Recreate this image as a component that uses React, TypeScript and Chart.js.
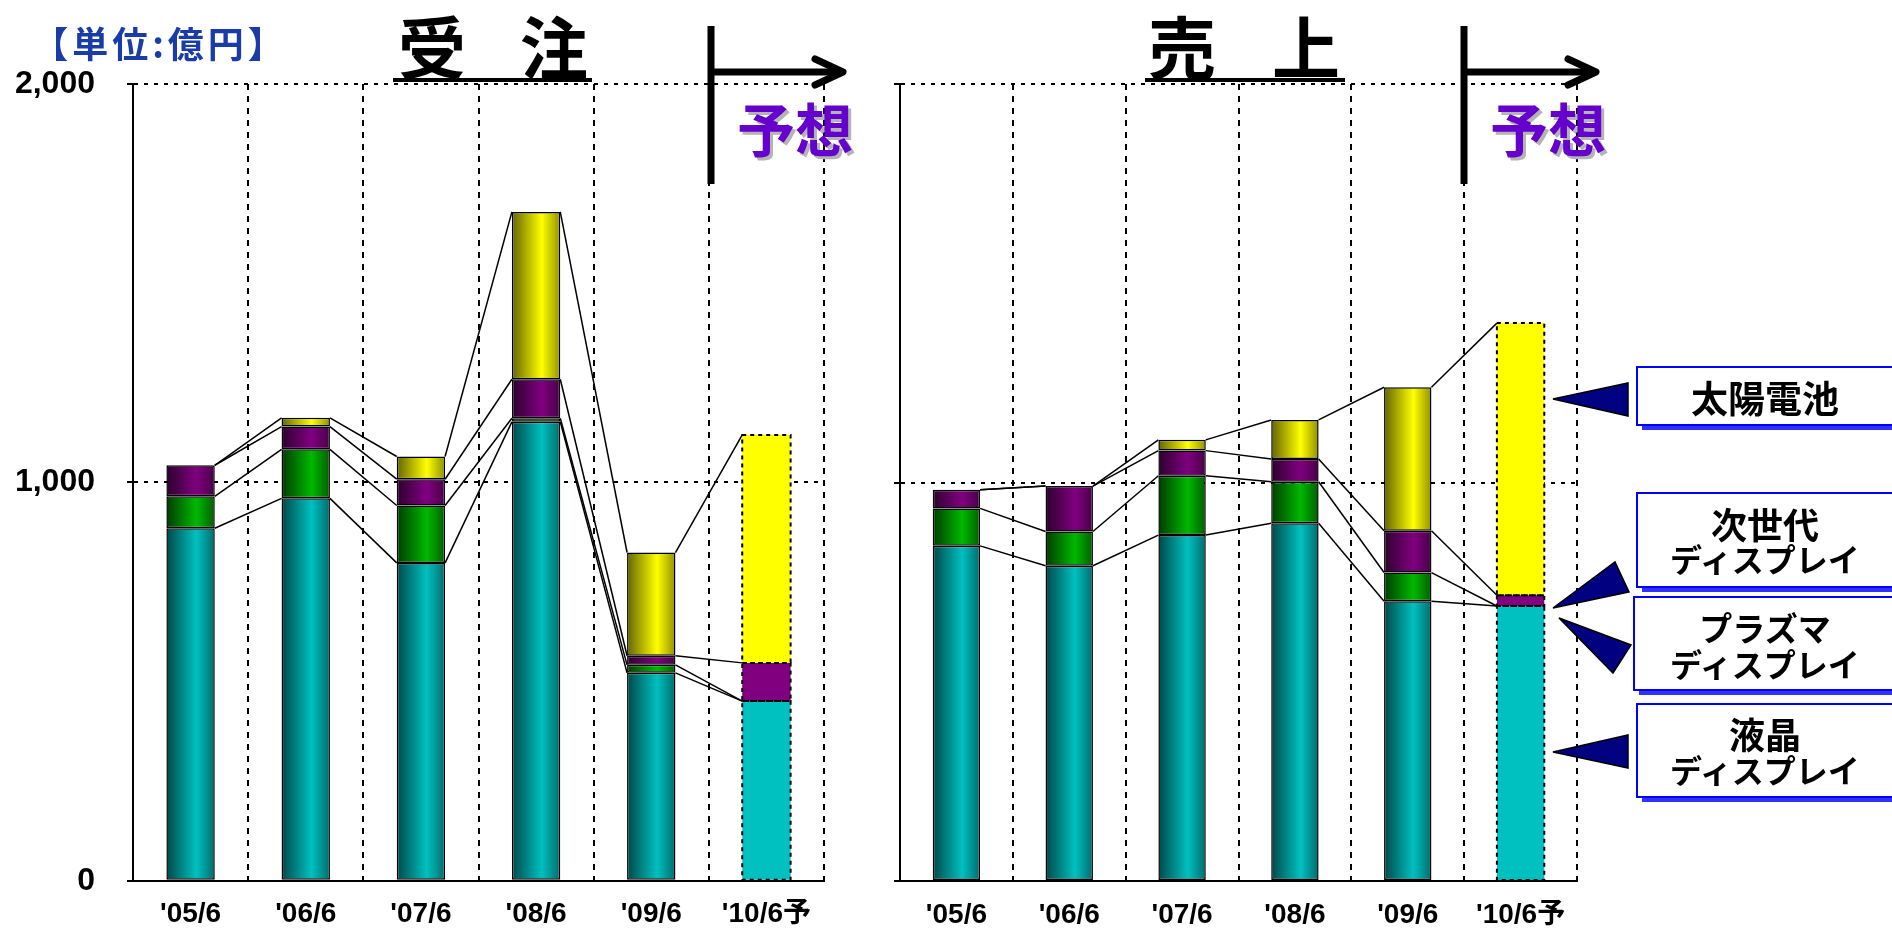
import React, { useEffect, useRef } from "react";
import { Chart, registerables } from "chart.js";

Chart.register(...registerables);

// ---------- data ----------
const categories = ["'05/6", "'06/6", "'07/6", "'08/6", "'09/6", "'10/6予"];
const yTickValues = [0, 1000, 2000];
const yTickLabels = ["0", "1,000", "2,000"];
const seriesNames = ["液晶ディスプレイ", "プラズマディスプレイ", "次世代ディスプレイ", "太陽電池"];

// 受注 (orders), 億円
const ordersLCD = [885, 960, 798, 1152, 522, 451];
const ordersPlasma = [80, 123, 144, 9, 20, 0];
const ordersNextGen = [78, 57, 66, 98, 23, 96];
const ordersSolar = [0, 22, 57, 420, 259, 572];

// 売上 (sales), 億円
const salesLCD = [841, 791, 868, 898, 702, 690];
const salesPlasma = [94, 86, 149, 104, 72, 0];
const salesNextGen = [47, 114, 63, 57, 105, 27];
const salesSolar = [0, 0, 27, 98, 360, 683];

const forecastIndex = 5;

// ---------- style ----------
const BAR_PCT = 0.42;
const TICK_FONT = '"Liberation Sans", Arial, "Noto Sans CJK JP", sans-serif';
const JP_FONT = '"Noto Sans CJK JP", "Noto Sans", sans-serif';

const palette = [
  { base: "#00C0C0", dark: "#004848", mid: "#006c6c" },
  { base: "#00B800", dark: "#003c00", mid: "#005e00" },
  { base: "#800080", dark: "#2c002c", mid: "#480048" },
  { base: "#FFFF00", dark: "#646400", mid: "#909000" },
];

function makeBg(pi: number) {
  return (ctx: any) => {
    const p = palette[pi];
    if (ctx.type !== "data" || ctx.dataIndex === forecastIndex) return p.base;
    const chart = ctx.chart;
    const xs = chart.scales && chart.scales.x;
    if (!xs || !chart.chartArea) return p.base;
    const cx = xs.getPixelForValue(ctx.dataIndex);
    const hw = ((xs.right - xs.left) / categories.length) * BAR_PCT / 2;
    const g = chart.ctx.createLinearGradient(cx - hw, 0, cx + hw, 0);
    g.addColorStop(0, p.dark);
    g.addColorStop(0.62, p.base);
    g.addColorStop(1, p.mid);
    return g;
  };
}

const connectorPlugin = {
  id: "seriesConnectors",
  afterDatasetsDraw(chart: any) {
    const ctx = chart.ctx;
    const metas = chart.data.datasets.map((_: any, i: number) => chart.getDatasetMeta(i));
    ctx.save();
    ctx.strokeStyle = "#000";
    ctx.lineWidth = 1.5;
    for (let i = 0; i < categories.length - 1; i++) {
      for (const meta of metas) {
        const a = meta.data[i];
        const b = meta.data[i + 1];
        if (!a || !b) continue;
        ctx.beginPath();
        ctx.moveTo(a.x + a.width / 2, a.y);
        ctx.lineTo(b.x - b.width / 2, b.y);
        ctx.stroke();
      }
    }
    ctx.setLineDash([4, 4]);
    ctx.lineWidth = 2;
    for (const meta of metas) {
      const el = meta.data[forecastIndex];
      if (!el) continue;
      const h = el.base - el.y;
      if (Math.abs(h) < 0.5) continue;
      ctx.strokeRect(el.x - el.width / 2, el.y, el.width, h);
    }
    ctx.restore();
  },
};

type PanelProps = {
  series: number[][];
  left: number;
  width: number;
  axisWidth: number;
  rightPad: number;
  showY: boolean;
};

function StackPanel({ series, left, width, axisWidth, rightPad, showY }: PanelProps) {
  const ref = useRef<HTMLCanvasElement>(null);
  useEffect(() => {
    const chart = new Chart(ref.current as HTMLCanvasElement, {
      type: "bar",
      data: {
        labels: categories,
        datasets: series.map((d, i) => ({
          label: seriesNames[i],
          data: d,
          backgroundColor: makeBg(i) as any,
          borderColor: "#000",
          borderWidth: ((c: any) => (c.dataIndex === forecastIndex ? 0 : 1.5)) as any,
          borderSkipped: false,
          barPercentage: BAR_PCT,
          categoryPercentage: 1,
        })),
      },
      options: {
        responsive: false,
        animation: false,
        events: [],
        layout: { padding: { top: 84, right: rightPad, left: 0, bottom: 0 } },
        plugins: { legend: { display: false }, tooltip: { enabled: false }, title: { display: false } },
        scales: {
          x: {
            stacked: true,
            offset: true,
            grid: { offset: true, color: "#000", lineWidth: 2, drawTicks: false },
            border: { display: true, color: "#000", width: 2, dash: [6, 6] },
            ticks: {
              color: "#000",
              font: { family: TICK_FONT, size: 28, weight: "bold" },
              padding: 17,
              maxRotation: 0,
              autoSkip: false,
            },
            afterFit: (s: any) => {
              s.height = 51;
            },
          },
          y: {
            stacked: true,
            min: 0,
            max: 2000,
            grid: { color: "#000", lineWidth: 2, drawTicks: true, tickLength: 6, tickBorderDash: [] },
            border: { display: true, color: "#000", width: 2, dash: [4, 6] },
            ticks: {
              display: showY,
              stepSize: 1000,
              color: "#000",
              padding: 32,
              font: { family: TICK_FONT, size: 32, weight: "bold" },
              callback: (v: any) => {
                const idx = yTickValues.indexOf(Number(v));
                return idx >= 0 ? yTickLabels[idx] : "";
              },
            },
            afterFit: (s: any) => {
              s.width = axisWidth;
            },
          },
        },
      } as any,
      plugins: [connectorPlugin],
    });
    return () => chart.destroy();
  }, []);
  return (
    <canvas
      ref={ref}
      width={width}
      height={932}
      style={{ position: "absolute", left, top: 0, width, height: 932 }}
    />
  );
}

function Arrow({ x, tipX }: { x: number; tipX: number }) {
  return (
    <g stroke="#000" strokeWidth={7} fill="none" strokeLinecap="butt" strokeLinejoin="round">
      <line x1={x} y1={26} x2={x} y2={184} />
      <line x1={x} y1={72} x2={tipX - 4} y2={72} />
      <polyline points={`${tipX - 28},59 ${tipX},72 ${tipX - 28},85`} strokeLinecap="round" />
    </g>
  );
}

function Forecast({ cx }: { cx: number }) {
  const style: any = { fontFamily: JP_FONT, fontWeight: 700, fontSize: 58 };
  return (
    <g>
      <text x={cx + 3} y={130} textAnchor="middle" dominantBaseline="central" fill="#B4B4B4" style={style}>
        予想
      </text>
      <text x={cx} y={127} textAnchor="middle" dominantBaseline="central" fill="#6600CC" style={style}>
        予想
      </text>
    </g>
  );
}

function LegendBox({
  x,
  y,
  h,
  lines,
}: {
  x: number;
  y: number;
  h: number;
  lines: { t: string; y: number; s: number }[];
}) {
  const w = 270;
  return (
    <g>
      <rect x={x + 5} y={y + 5} width={w} height={h} fill="#3030FF" />
      <rect x={x} y={y} width={w} height={h} fill="#fff" stroke="#0000FF" strokeWidth={2} />
      {lines.map((l, i) => (
        <text
          key={i}
          x={1765}
          y={l.y}
          textAnchor="middle"
          dominantBaseline="central"
          fill="#000"
          style={{ fontFamily: JP_FONT, fontWeight: 700, fontSize: l.s }}
        >
          {l.t}
        </text>
      ))}
    </g>
  );
}

function Overlay() {
  const titleStyle: any = { fontFamily: JP_FONT, fontWeight: 700, fontSize: 68 };
  const tri = (pts: string, k: number) => (
    <polygon key={k} points={pts} fill="#000080" stroke="#000" strokeWidth={1.5} strokeLinejoin="miter" />
  );
  return (
    <svg
      width={1892}
      height={932}
      style={{ position: "absolute", left: 0, top: 0, pointerEvents: "none" }}
    >
      <text
        x={160}
        y={42}
        textAnchor="middle"
        dominantBaseline="central"
        fill="#1A3CA8"
        style={{ fontFamily: JP_FONT, fontWeight: 700, fontSize: 36, letterSpacing: 4 }}
      >
        【単位:億円】
      </text>

      <text x={432} y={44} textAnchor="middle" dominantBaseline="central" fill="#000" style={titleStyle}>受</text>
      <text x={554} y={44} textAnchor="middle" dominantBaseline="central" fill="#000" style={titleStyle}>注</text>
      <rect x={393} y={78} width={199} height={4} fill="#000" />

      <text x={1182} y={44} textAnchor="middle" dominantBaseline="central" fill="#000" style={titleStyle}>売</text>
      <text x={1306} y={44} textAnchor="middle" dominantBaseline="central" fill="#000" style={titleStyle}>上</text>
      <rect x={1145} y={78} width={200} height={4} fill="#000" />

      <Arrow x={711} tipX={843} />
      <Arrow x={1464} tipX={1596} />
      <Forecast cx={795} />
      <Forecast cx={1548} />

      {tri("1553,399 1628,383 1628,416", 1)}
      {tri("1553,608 1615,562 1629,592", 2)}
      {tri("1559,618 1631,645 1613,673", 3)}
      {tri("1553,752 1628,735 1628,768", 4)}

      <LegendBox x={1637} y={367} h={58} lines={[{ t: "太陽電池", y: 397, s: 37 }]} />
      <LegendBox
        x={1637}
        y={493}
        h={94}
        lines={[
          { t: "次世代", y: 523, s: 36 },
          { t: "ディスプレイ", y: 558, s: 32 },
        ]}
      />
      <LegendBox
        x={1634}
        y={597}
        h={93}
        lines={[
          { t: "プラズマ", y: 627, s: 33 },
          { t: "ディスプレイ", y: 663, s: 32 },
        ]}
      />
      <LegendBox
        x={1637}
        y={704}
        h={93}
        lines={[
          { t: "液晶", y: 733, s: 36 },
          { t: "ディスプレイ", y: 769, s: 32 },
        ]}
      />
    </svg>
  );
}

export default function App() {
  return (
    <div
      style={{
        position: "absolute",
        left: 0,
        top: 0,
        width: 1892,
        height: 932,
        overflow: "hidden",
        background: "#fff",
      }}
    >
      <StackPanel
        series={[ordersLCD, ordersPlasma, ordersNextGen, ordersSolar]}
        left={0}
        width={860}
        axisWidth={133}
        rightPad={36}
        showY={true}
      />
      <StackPanel
        series={[salesLCD, salesPlasma, salesNextGen, salesSolar]}
        left={860}
        width={740}
        axisWidth={40}
        rightPad={23}
        showY={false}
      />
      <Overlay />
    </div>
  );
}
